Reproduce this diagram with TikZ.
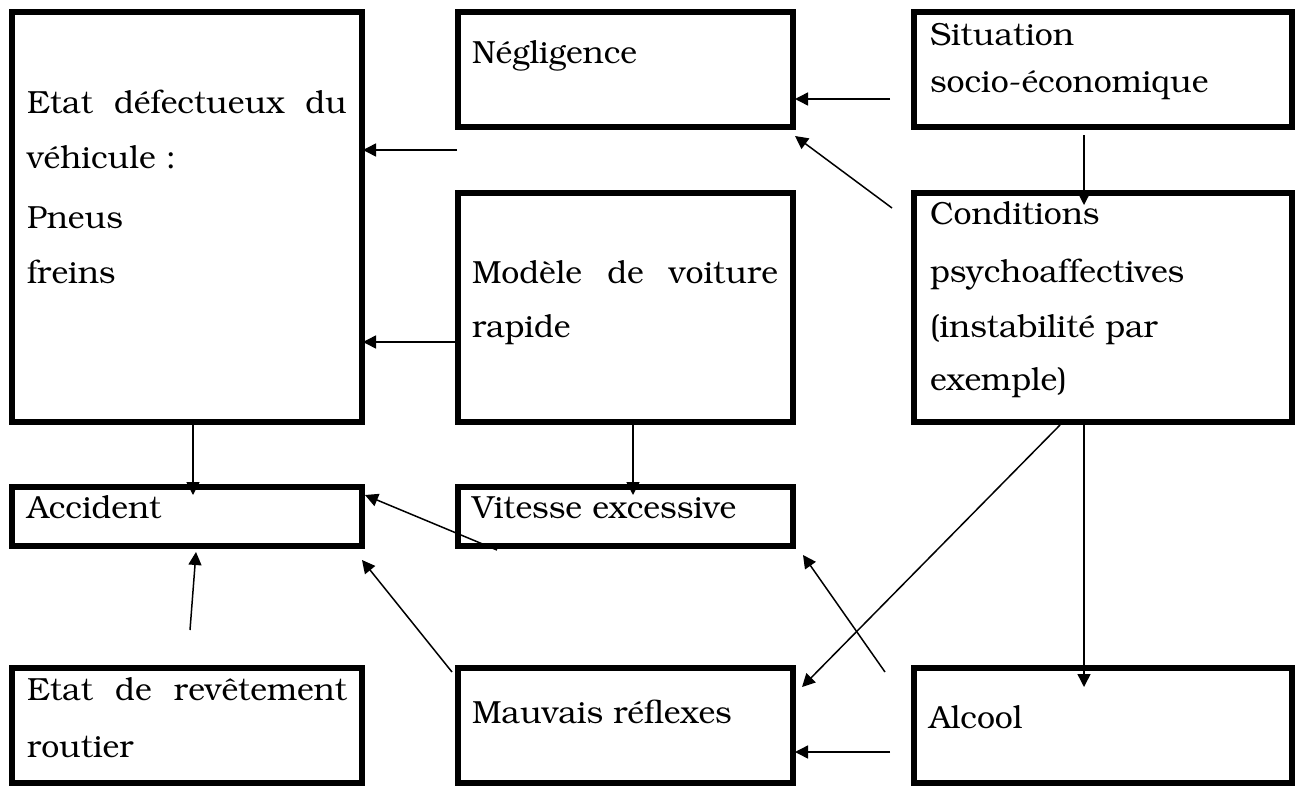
\documentclass[tikz,border=0pt]{standalone}
\usepackage[T1]{fontenc}
\usepackage{bookman}
\usetikzlibrary{arrows.meta,calc}
\begin{document}
\begin{tikzpicture}[x=0.5pt,y=-0.5pt,
  box/.style={draw,line width=2.75pt,rectangle,inner sep=0pt,outer sep=0pt,anchor=north west},
  lbl/.style={anchor=base west,inner sep=0pt,outer sep=0pt,font=\fontsize{16}{28}\selectfont},
  ar/.style={line width=0.75pt,-{Triangle[length=6.5pt,width=6.5pt]}}]
\useasboundingbox (0,0) rectangle (1300,787);
\newcommand\bx[5]{\node[box,minimum width={(#4-#2)*0.5pt},minimum height={(#5-#3)*0.5pt}] (#1) at (#2,#3) {};}
\bx{def}{12}{12}{362}{422}
\bx{neg}{458}{12}{793}{127}
\bx{sit}{914}{12}{1292}{127}
\bx{mod}{458}{193}{793}{422}
\bx{cond}{914}{193}{1292}{422}
\bx{acc}{12}{487}{362}{546}
\bx{vit}{458}{487}{793}{546}
\bx{rev}{12}{668}{362}{783}
\bx{mau}{458}{668}{793}{783}
\bx{alc}{914}{668}{1292}{783}
% texts
\node[lbl] (def1) at (27,113) {\makebox[160pt][s]{Etat d\'efectueux du}};
\node[lbl] (def2) at (27,168) {v\'ehicule :};
\node[lbl] (def3) at (27,228) {Pneus};
\node[lbl] (def4) at (27,283) {freins};
\node[lbl] (neg1) at (472,63) {N\'egligence};
\node[lbl] (sit1) at (930,45) {Situation};
\node[lbl] (sit2) at (930,92) {socio-\'economique};
\node[lbl] (mod1) at (472,283) {\makebox[153pt][s]{Mod\`ele de voiture}};
\node[lbl] (mod2) at (472,337) {rapide};
\node[lbl] (cond1) at (930,224) {Conditions};
\node[lbl] (cond2) at (930,282) {psychoaffectives};
\node[lbl] (cond3) at (930,337) {(instabilit\'e par};
\node[lbl] (cond4) at (930,390) {exemple)};
\node[lbl] (acc1) at (27,518) {Accident};
\node[lbl] (vit1) at (472,518) {Vitesse excessive};
\node[lbl] (rev1) at (27,700) {\makebox[160pt][s]{Etat de rev\^etement}};
\node[lbl] (rev2) at (27,757) {routier};
\node[lbl] (mau1) at (472,723) {Mauvais r\'eflexes};
\node[lbl] (alc1) at (929,728) {Alcool};
% connectors
\draw[ar] ($(sit.west)+(-24,29.5)$) -- ($(neg.east)+(2,29.5)$);
\draw[ar] ($(cond.north west)+(-22,15)$) -- ($(neg.south east)+(2,9)$);
\draw[ar] ($(neg.south west)+(-1,23)$) -- ($(def.north east)+(1,138)$);
\draw[ar] ($(mod.west)+(0,34.5)$) -- ($(def.north east)+(1,330)$);
\draw[ar] ($(sit.south)+(-19,8)$) -- ($(cond.north)+(-19,12)$);
\draw[ar] ($(def.south)+(6,3)$) -- ($(acc.north)+(6,8)$);
\draw[ar] ($(mod.south)+(7.5,3)$) -- ($(vit.north)+(7.5,8)$);
\draw[ar] ($(rev.north)+(3,-38)$) -- ($(acc.south)+(9,6)$);
\draw[ar] ($(vit.south west)+(39,4)$) -- ($(acc.north east)+(3,8)$);
\draw[ar] ($(mau.north west)+(-6,4)$) -- ($(acc.south east)+(0,14)$);
\draw[ar] ($(alc.north west)+(-29,4)$) -- ($(vit.south east)+(10,9)$);
\draw[ar] ($(cond.south)+(-43,3)$) -- ($(mau.north east)+(9,19)$);
\draw[ar] ($(cond.south)+(-19,3)$) -- ($(alc.north)+(-19,19)$);
\draw[ar] ($(alc.west)+(-24,26.5)$) -- ($(mau.east)+(2,26.5)$);
\end{tikzpicture}
\end{document}
